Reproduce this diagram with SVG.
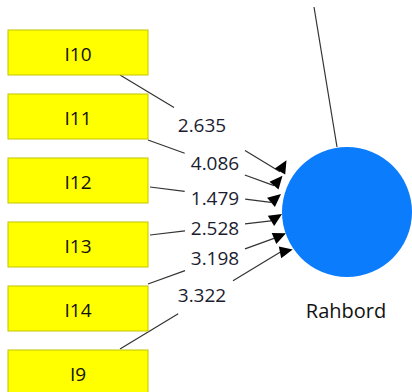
<svg xmlns="http://www.w3.org/2000/svg" width="412" height="392" viewBox="0 0 412 392">
<style>
.box{fill:#ffff00;stroke:#c4c400;stroke-width:1}
.bt{font-family:"Open Sans","Liberation Sans",sans-serif;font-size:19px;fill:#111;text-anchor:middle}
.lbl{font-family:"Open Sans","Liberation Sans",sans-serif;font-size:19px;fill:#1c1c30;text-anchor:middle}
.ln{stroke:#333;stroke-width:1.2;fill:none}
.ah{fill:#000}
</style>
<rect width="412" height="392" fill="#fff"/>
<g id="connectors">
<path class="ln" d="M314,7 L337,147"/>
<path class="ln" d="M120,75 L174,107.6 M245,150.5 L280,171.7"/>
<path class="ln" d="M148,140 L184.7,153.3 M244.8,175 L274,185.6"/>
<path class="ln" d="M150,187 L184.7,191.4 M245.2,199.1 L271,202.4"/>
<path class="ln" d="M150,235 L185,230.9 M245,223.9 L271,220.9"/>
<path class="ln" d="M148,284 L185,270.6 M245,248.9 L274,238.4"/>
<path class="ln" d="M120,349 L178.2,313.8 M233,280.8 L280,252.3"/>
<polygon class="ah" points="286.5,160.2 285.2,174.5 274.8,168.5"/>
<polygon class="ah" points="282.5,175.8 278.5,189.5 269.5,181.7"/>
<polygon class="ah" points="281,194 274.9,207 267.1,197.8"/>
<polygon class="ah" points="282,214 274.2,226 267.8,215.8"/>
<polygon class="ah" points="286,233.3 276.3,243.9 271.7,232.9"/>
<polygon class="ah" points="292.7,249.6 281.2,258.2 278.8,246.4"/>
<text class="lbl" x="202" y="132">2.635</text>
<text class="lbl" x="215" y="170">4.086</text>
<text class="lbl" x="215" y="205">1.479</text>
<text class="lbl" x="215" y="235">2.528</text>
<text class="lbl" x="215" y="265">3.198</text>
<text class="lbl" x="202" y="302">3.322</text>
</g>
<g id="I10"><rect class="box" x="8" y="30" width="140" height="45"/><text class="bt" x="78" y="61">I10</text></g>
<g id="I11"><rect class="box" x="8" y="94" width="140" height="45"/><text class="bt" x="78" y="125">I11</text></g>
<g id="I12"><rect class="box" x="8" y="158" width="140" height="45"/><text class="bt" x="78" y="189">I12</text></g>
<g id="I13"><rect class="box" x="8" y="222" width="140" height="45"/><text class="bt" x="78" y="253">I13</text></g>
<g id="I14"><rect class="box" x="8" y="286" width="140" height="45"/><text class="bt" x="78" y="317">I14</text></g>
<g id="I9"><rect class="box" x="8" y="350" width="140" height="45"/><text class="bt" x="78" y="381">I9</text></g>
<g id="Rahbord"><circle cx="347" cy="212" r="65" fill="#0a7cfc"/><text class="bt" x="346" y="318" style="font-size:20px">Rahbord</text></g>
</svg>
